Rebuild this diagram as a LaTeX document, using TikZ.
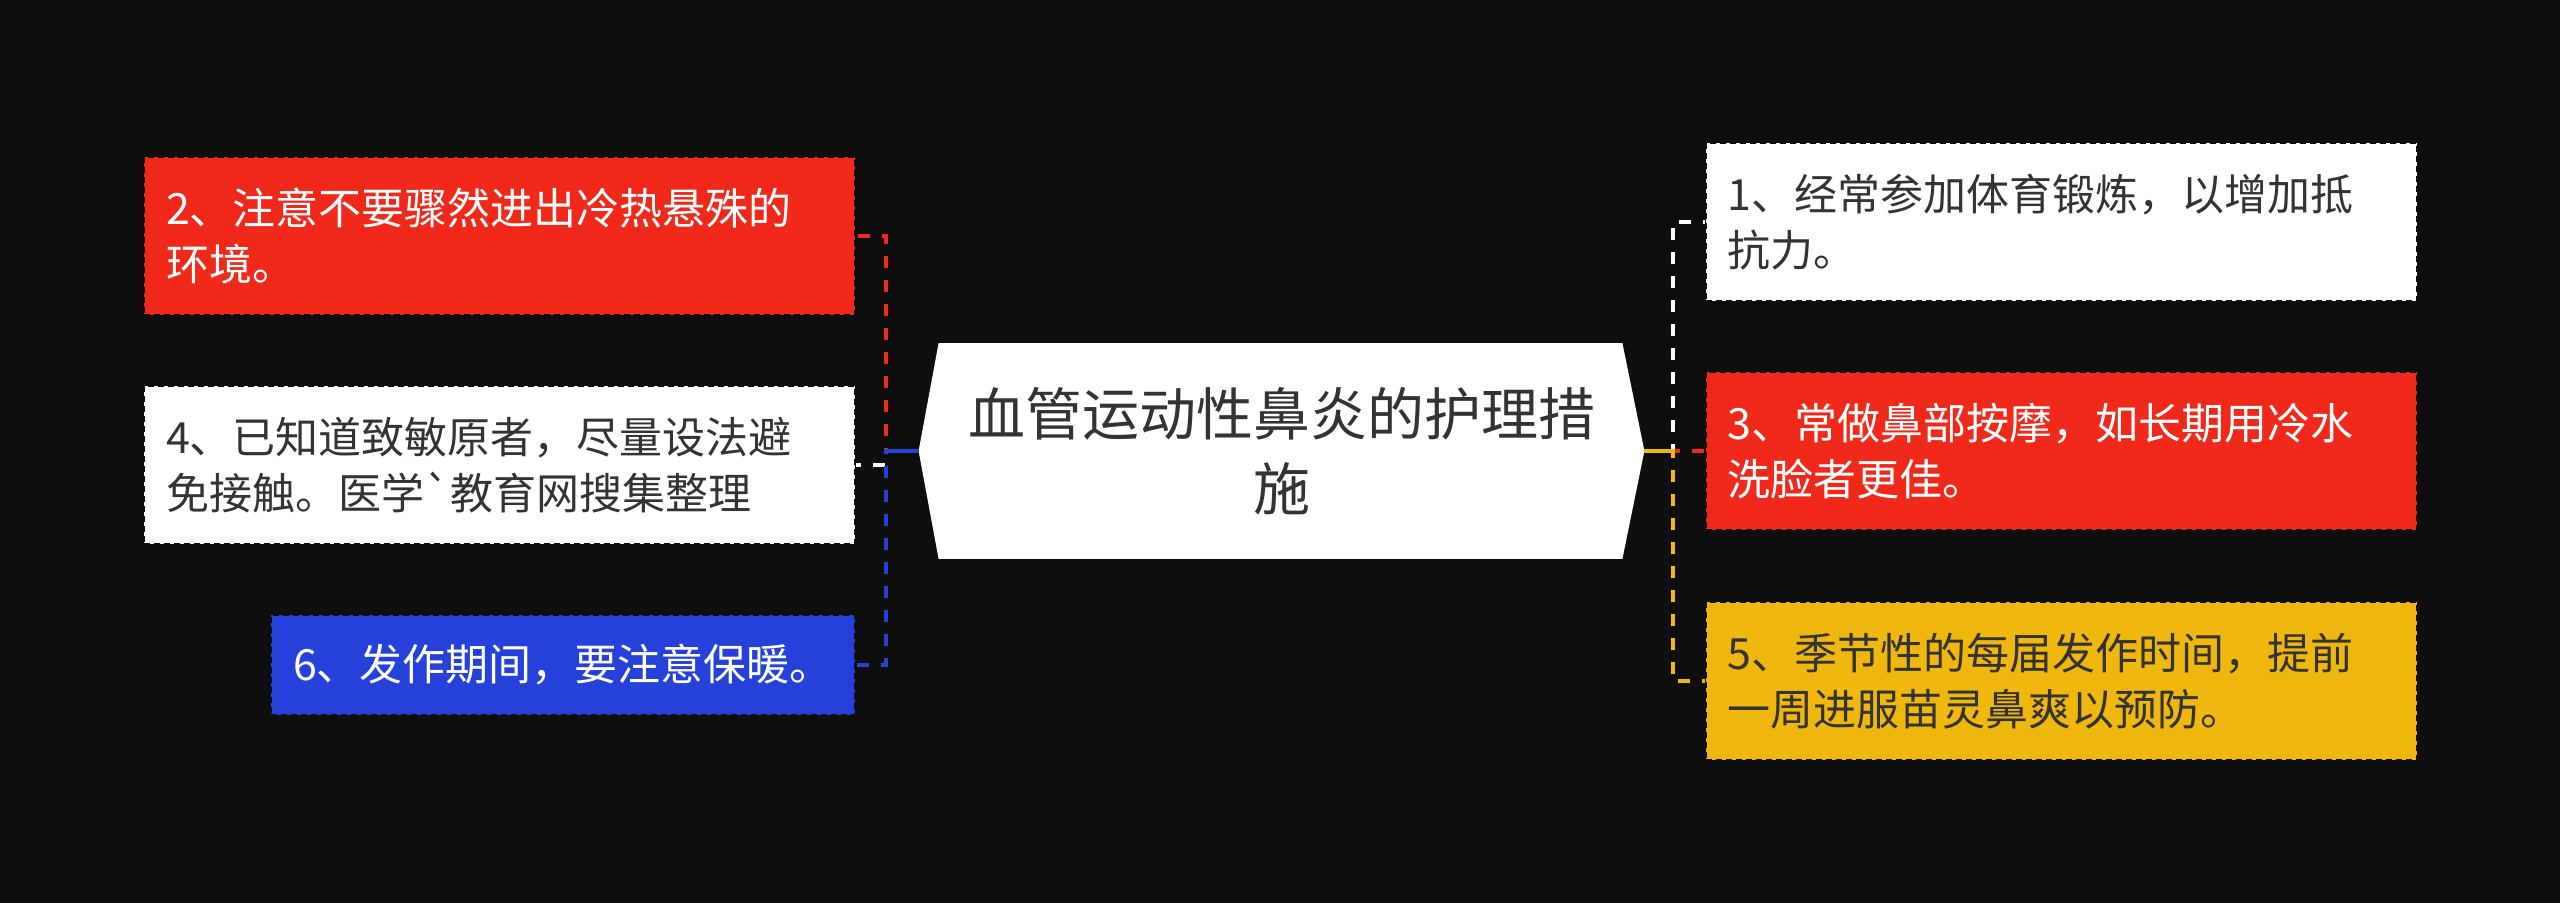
\documentclass[tikz,border=0pt]{standalone}
\usepackage{fontspec}
\newfontfamily\cjk{Noto Sans CJK SC}
\usetikzlibrary{backgrounds}

\definecolor{bg}{HTML}{0E0E0E}
\definecolor{myred}{HTML}{F0291A}
\definecolor{myblue}{HTML}{2541DA}
\definecolor{myyellow}{HTML}{F0B80F}
\definecolor{ink}{HTML}{333333}

\tikzset{
	item/.style={rectangle, draw=bg, line width=1pt, dash pattern=on 3pt off 2pt,
		text width=333.5pt, inner xsep=11pt, inner ysep=0pt, align=left,
		font=\cjk\fontsize{21.5}{27.8}\selectfont},
	twoline/.style={item, minimum height=79pt},
	oneline/.style={item, minimum height=50pt},
	link/.style={line width=2pt, dash pattern=on 6pt off 6pt},
	stub/.style={line width=2pt}
}

\begin{document}
\begin{tikzpicture}[x=0.5pt,y=-0.5pt]

	\useasboundingbox (0,0) rectangle (2560,903);

	\node[font=\cjk\fontsize{28.5}{37.5}\selectfont, text=ink, align=center,
		minimum width=362.5pt, minimum height=107.5pt, inner sep=0pt] (root) at (1281.5,451)
		{血管运动性鼻炎的护理措\\施};

	\begin{scope}[on background layer]
		\fill[bg] (0,0) rectangle (2560,903);
		\fill[white] ([xshift=10pt]root.north west) -- ([xshift=-11pt]root.north east)
			-- (root.east) -- ([xshift=-11pt]root.south east)
			-- ([xshift=10pt]root.south west) -- (root.west) -- cycle;
	\end{scope}

	% left side
	\node[twoline, fill=myred, text=white] (b2) at (499.5,236)
		{2、注意不要骤然进出冷热悬殊的\\环境。};
	\node[twoline, fill=white, text=ink] (b4) at (499.5,465)
		{4、已知道致敏原者，尽量设法避\\免接触。医学`教育网搜集整理};
	\node[oneline, fill=myblue, text=white, text width=270pt] (b6) at (563,665)
		{6、发作期间，要注意保暖。};

	% right side
	\node[twoline, fill=white, text=ink] (b1) at (2061,222)
		{1、经常参加体育锻炼，以增加抵\\抗力。};
	\node[twoline, fill=myred, text=white] (b3) at (2061,451)
		{3、常做鼻部按摩，如长期用冷水\\洗脸者更佳。};
	\node[twoline, fill=myyellow, text=ink] (b5) at (2061,681)
		{5、季节性的每届发作时间，提前\\一周进服苗灵鼻爽以预防。};

	\draw[link, myred] (root.west) -- ++(-33,0) |- (b2.east);
	\draw[link, white] (root.west) -- ++(-33,0) |- (b4.east);
	\draw[link, myblue] (root.west) -- ++(-33,0) |- (b6.east);
	\draw[stub, myblue] (root.west) -- ++(-33,0);

	\draw[link, white] (root.east) -- ++(29,0) |- (b1.west);
	\draw[link, myred] (root.east) -- (b3.west);
	\draw[link, myyellow] (root.east) -- ++(29,0) |- (b5.west);
	\draw[stub, myyellow] (root.east) -- ++(29,0);

\end{tikzpicture}
\end{document}
